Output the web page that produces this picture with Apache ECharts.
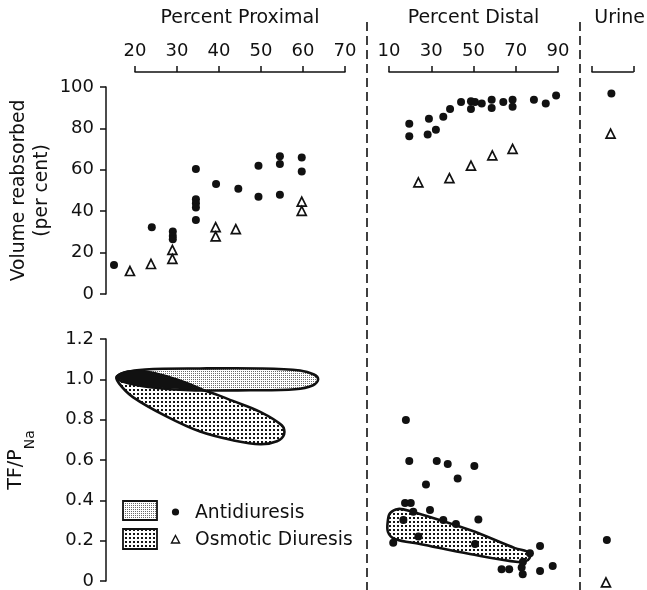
<!DOCTYPE html>
<html>
<head>
<meta charset="utf-8">
<script src="https://cdn.jsdelivr.net/npm/echarts@6/dist/echarts.min.js"></script>
<style>
  html, body { margin: 0; padding: 0; background: #fff; }
  #chart { width: 647px; height: 590px; }
</style>
</head>
<body>
<div id="chart"></div>
<script>
// ---- data -------------------------------------------------------------
// Volume reabsorbed (per cent) against percent of proximal tubule length
const proximalAntidiuresis = [
  [15, 14], [24, 32.3], [29, 30.2], [29, 28], [29, 26.5],
  [34.5, 60.4], [34.5, 45.8], [34.5, 43.9], [34.5, 41.8], [34.5, 35.8],
  [39.3, 53.1], [44.6, 50.8], [49.4, 62], [49.4, 47],
  [54.5, 66.5], [54.5, 62.8], [54.5, 47.9], [59.7, 66], [59.7, 59.2]
];
const proximalOsmotic = [
  [18.8, 11.1], [23.8, 14.5], [28.9, 21.3], [28.9, 17],
  [39.2, 32.3], [39.2, 27.8], [44, 31.3], [59.7, 44.6], [59.7, 40.2]
];
// Volume reabsorbed against percent of distal tubule length
const distalAntidiuresis = [
  [19.6, 82.2], [19.6, 76.2], [28.9, 84.7], [28.3, 77], [32.2, 79.4],
  [35.7, 85.6], [38.9, 89.4], [44.1, 92.8], [48.8, 93.1], [48.8, 89.4],
  [50.7, 92.8], [53.9, 92], [58.6, 93.9], [58.6, 89.9], [64.1, 92.8],
  [68.5, 93.9], [68.5, 90.4], [78.6, 93.9], [84.2, 92], [89.1, 95.9]
];
const distalOsmotic = [[23.9, 53.9], [38.6, 56], [48.8, 62], [58.9, 67], [68.5, 70.1]];
// Final urine
const urineAntidiuresis = [[0.47, 96.9]];
const urineOsmotic = [[0.45, 77.5]];

// TF/P Na in distal tubule
const distalNaAntidiuresis = [
  [18, 0.805], [19.6, 0.605], [32.6, 0.605], [37.8, 0.59], [50.4, 0.58],
  [42.5, 0.52], [27.5, 0.49], [17.6, 0.40], [20.3, 0.40], [29.4, 0.366],
  [52.3, 0.32], [35.7, 0.317], [41.7, 0.298], [16.8, 0.317], [21.5, 0.357],
  [12, 0.206], [23.9, 0.236], [50.7, 0.20], [76.7, 0.155], [81.5, 0.19],
  [87.5, 0.093], [81.5, 0.068], [63.3, 0.077], [66.9, 0.077], [72.8, 0.085],
  [73.3, 0.052], [73.4, 0.114]
];
const urineNaAntidiuresis = [[0.33, 0.22]];
const urineNaOsmotic = [[0.31, 0.013]];

// Outlines of the shaded regions (percent length, TF/P Na)
const proximalAntiRegion = [
  [15.7, 1.010], [17.6, 1.034], [22.4, 1.049], [35.5, 1.054], [49.8, 1.054],
  [59.3, 1.044], [62.6, 1.024], [63.6, 1.0], [62.4, 0.971], [58.1, 0.951],
  [47.4, 0.946], [33.1, 0.946], [23.6, 0.961], [17.6, 0.985]
];
const proximalOsmRegion = [
  [15.7, 1.015], [19.5, 1.039], [27.6, 0.990], [37.1, 0.941], [43.3, 0.893],
  [49.8, 0.839], [55.0, 0.771], [55.5, 0.727], [53.8, 0.693], [49.8, 0.678],
  [43.3, 0.698], [35.5, 0.741], [27.6, 0.815], [19.5, 0.912], [16.2, 0.980]
];
const proximalOverlap = [
  [15.7, 1.015], [22.9, 1.044], [37.1, 0.946], [31.4, 0.951], [19.5, 0.976]
];
const distalOsmRegion = [
  [10.5, 0.351], [14.3, 0.371], [19.9, 0.361], [48.3, 0.268], [69.6, 0.180],
  [76.7, 0.156], [75.8, 0.122], [71.1, 0.112], [48.3, 0.151], [24.7, 0.2],
  [12.8, 0.224], [9.5, 0.259], [9.5, 0.317]
];

// ---- styling helpers ----------------------------------------------------
const FONT = 'DejaVu Sans';
const INK = '#111111';

function stipple(size, dot, color) {
  const c = document.createElement('canvas');
  c.width = c.height = size;
  const g = c.getContext('2d');
  g.fillStyle = '#ffffff';
  g.fillRect(0, 0, size, size);
  g.fillStyle = color;
  g.fillRect(1, 1, dot, dot);
  return { image: c, repeat: 'repeat' };
}
const fineDots = stipple(2, 1, '#6a6a6a');
const coarseDots = stipple(4, 2, '#151515');

function regionSeries(points, fill, stroke, xi, yi, z) {
  return {
    type: 'custom', xAxisIndex: xi, yAxisIndex: yi, clip: false, silent: true, z: z,
    data: [[0, 0]],
    renderItem: function (params, api) {
      return {
        type: 'polygon',
        shape: { points: points.map(p => api.coord(p)), smooth: 0.35 },
        style: { fill: fill, stroke: stroke ? INK : null, lineWidth: 2.6 }
      };
    }
  };
}

function dots(data, xi, yi) {
  return {
    type: 'scatter', xAxisIndex: xi, yAxisIndex: yi, clip: false, z: 10,
    symbol: 'circle', symbolSize: 8, data: data,
    itemStyle: { color: INK, opacity: 1 }
  };
}
function triangles(data, xi, yi) {
  return {
    type: 'scatter', xAxisIndex: xi, yAxisIndex: yi, clip: false, z: 10,
    symbol: 'triangle', symbolSize: 9, data: data,
    itemStyle: { color: '#fff', borderColor: INK, borderWidth: 1.7, opacity: 1 }
  };
}

const axisLine = { show: true, onZero: false, lineStyle: { color: INK, width: 1.5 } };
const axisTick = { show: true, length: 6, lineStyle: { color: INK, width: 1.5 } };
const labelStyle = { fontFamily: FONT, fontSize: 18, color: INK };

function topAxis(grid, min, max, interval, name, labels, namePad) {
  return {
    gridIndex: grid, type: 'value', position: 'top', offset: 15,
    min: min, max: max, interval: interval,
    name: name, nameLocation: 'middle', nameGap: 44,
    nameTextStyle: { fontFamily: FONT, fontSize: 19, color: INK, padding: namePad || 0 },
    axisLine: axisLine, axisTick: axisTick,
    axisLabel: Object.assign({ show: labels, margin: 12 }, labelStyle),
    splitLine: { show: false }
  };
}
function hiddenAxis(grid, min, max) {
  return { gridIndex: grid, type: 'value', min: min, max: max, show: false, splitLine: { show: false } };
}

const chart = echarts.init(document.getElementById('chart'), null, { renderer: 'canvas' });

chart.setOption({
  backgroundColor: '#ffffff',
  animation: false,
  grid: [
    { left: 135, width: 210, top: 87, height: 207 },   // proximal, volume
    { left: 389, width: 169, top: 87, height: 207 },   // distal, volume
    { left: 592, width: 45, top: 87, height: 207 },    // urine, volume
    { left: 135, width: 210, top: 339, height: 246 },  // proximal, TF/P
    { left: 389, width: 169, top: 339, height: 246 },  // distal, TF/P
    { left: 592, width: 45, top: 339, height: 246 }    // urine, TF/P
  ],
  xAxis: [
    topAxis(0, 20, 70, 10, 'Percent Proximal', true),
    topAxis(1, 10, 90, 20, 'Percent Distal', true),
    topAxis(2, 0, 1, 1, 'Urine', false, [0, 0, 0, 14]),
    hiddenAxis(3, 20, 70),
    hiddenAxis(4, 10, 90),
    hiddenAxis(5, 0, 1)
  ],
  yAxis: [
    {
      gridIndex: 0, type: 'value', min: 0, max: 100, interval: 20, offset: 29,
      name: 'Volume reabsorbed\n(per cent)', nameLocation: 'middle', nameRotate: 90, nameGap: 52,
      nameTextStyle: { fontFamily: FONT, fontSize: 18.7, color: INK, lineHeight: 23 },
      axisLine: axisLine, axisTick: axisTick,
      axisLabel: Object.assign({ margin: 12 }, labelStyle),
      splitLine: { show: false }
    },
    hiddenAxis(1, 0, 100),
    hiddenAxis(2, 0, 100),
    {
      gridIndex: 3, type: 'value', min: 0, max: 1.2, interval: 0.2, offset: 29,
      name: '{m|TF/P}{s|Na}', nameLocation: 'middle', nameRotate: 90, nameGap: 69,
      nameTextStyle: {
        fontFamily: FONT, color: INK,
        rich: {
          m: { fontFamily: FONT, fontSize: 19, color: INK, lineHeight: 30, verticalAlign: 'top' },
          s: { fontFamily: FONT, fontSize: 14, color: INK, lineHeight: 30, verticalAlign: 'bottom', padding: [12, 0, 0, 0] }
        }
      },
      axisLine: axisLine, axisTick: axisTick,
      axisLabel: Object.assign({
        margin: 12,
        formatter: v => (v === 0 ? '0' : v.toFixed(1))
      }, labelStyle),
      splitLine: { show: false }
    },
    hiddenAxis(4, 0, 1.2),
    hiddenAxis(5, 0, 1.2)
  ],
  graphic: [
    // section separators
    { type: 'line', silent: true, shape: { x1: 367, y1: 22, x2: 367, y2: 590 },
      style: { stroke: INK, lineWidth: 1.6, lineDash: [9, 5] } },
    { type: 'line', silent: true, shape: { x1: 580, y1: 22, x2: 580, y2: 590 },
      style: { stroke: INK, lineWidth: 1.6, lineDash: [9, 5] } },
    // key
    { type: 'rect', shape: { x: 123, y: 501, width: 34, height: 19 },
      style: { fill: fineDots, stroke: INK, lineWidth: 1.8 } },
    { type: 'rect', shape: { x: 123, y: 529, width: 34, height: 20 },
      style: { fill: coarseDots, stroke: INK, lineWidth: 1.8 } },
    { type: 'circle', shape: { cx: 175.5, cy: 512, r: 3.6 }, style: { fill: INK } },
    { type: 'polygon', shape: { points: [[175.5, 535.5], [179.5, 543], [171.5, 543]] },
      style: { fill: '#fff', stroke: INK, lineWidth: 1.4 } },
    { type: 'text', x: 195, y: 513,
      style: { text: 'Antidiuresis', fontFamily: FONT, fontSize: 18.7, fill: INK, verticalAlign: 'middle' } },
    { type: 'text', x: 195, y: 540,
      style: { text: 'Osmotic Diuresis', fontFamily: FONT, fontSize: 18.7, fill: INK, verticalAlign: 'middle' } }
  ],
  series: [
    dots(proximalAntidiuresis, 0, 0),
    triangles(proximalOsmotic, 0, 0),
    dots(distalAntidiuresis, 1, 1),
    triangles(distalOsmotic, 1, 1),
    dots(urineAntidiuresis, 2, 2),
    triangles(urineOsmotic, 2, 2),

    regionSeries(proximalOsmRegion, coarseDots, true, 3, 3, 2),
    regionSeries(proximalAntiRegion, fineDots, true, 3, 3, 3),
    regionSeries(proximalOverlap, INK, false, 3, 3, 4),
    regionSeries(distalOsmRegion, coarseDots, true, 4, 4, 2),

    dots(distalNaAntidiuresis, 4, 4),
    dots(urineNaAntidiuresis, 5, 5),
    triangles(urineNaOsmotic, 5, 5)
  ]
});
</script>
</body>
</html>
